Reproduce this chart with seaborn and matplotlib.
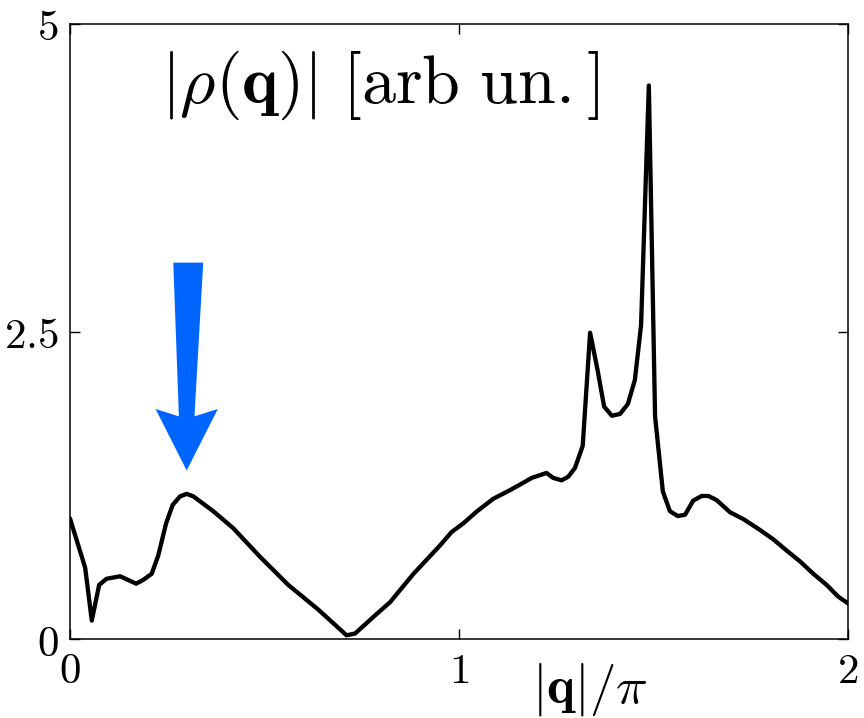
"""
Structure factor magnitude |rho(q)| along |q|/pi, with arrow marking the low-q hump.
"""
import numpy as np
import pandas as pd
import matplotlib
matplotlib.use("Agg")
import matplotlib.pyplot as plt
import seaborn as sns

# curve
q_over_pi = [0.000, 0.039, 0.056, 0.075, 0.094, 0.129, 0.170, 0.188, 0.210, 0.227,
             0.247, 0.264, 0.283, 0.300, 0.317, 0.368, 0.420, 0.488, 0.561, 0.638,
             0.711, 0.733, 0.780, 0.823, 0.883, 0.951, 0.981, 1.011, 1.045, 1.088,
             1.131, 1.165, 1.187, 1.225, 1.242, 1.264, 1.281, 1.298, 1.318, 1.337,
             1.356, 1.373, 1.393, 1.414, 1.434, 1.452, 1.468, 1.488, 1.504, 1.524,
             1.542, 1.562, 1.581, 1.602, 1.624, 1.641, 1.662, 1.697, 1.731, 1.774,
             1.808, 1.842, 1.877, 1.911, 1.945, 1.975, 2.000]
rho_abs = [0.98, 0.58, 0.15, 0.44, 0.49, 0.51, 0.45, 0.48, 0.53, 0.68,
           0.94, 1.09, 1.16, 1.18, 1.16, 1.04, 0.90, 0.67, 0.44, 0.24,
           0.03, 0.045, 0.18, 0.30, 0.53, 0.76, 0.87, 0.94, 1.035, 1.14,
           1.21, 1.27, 1.31, 1.35, 1.31, 1.29, 1.32, 1.39, 1.57, 2.49,
           2.19, 1.89, 1.815, 1.83, 1.91, 2.105, 2.55, 4.50, 1.81, 1.20,
           1.04, 1.00, 1.01, 1.125, 1.163, 1.163, 1.13, 1.03, 0.975, 0.886,
           0.81, 0.72, 0.63, 0.53, 0.44, 0.344, 0.29]

x_ticks = [0, 1, 2]
x_tick_labels = ["$0$", "$1$", "$2$"]
y_ticks = [0, 2.5, 5]
y_tick_labels = ["$0$", "$2.5$", "$5$"]

# arrow annotation (data units)
arrow_tip = (0.300, 1.37)
arrow_top_y = 3.06
arrow_top_x = 0.304
arrow_tail_half = 0.0385
arrow_neck_half = 0.020
arrow_head_half = 0.080
arrow_neck_y = 1.81
arrow_barb_y = 1.87

sns.set_theme(style="ticks")
plt.rcParams.update({
    "mathtext.fontset": "cm",
    "font.family": ["DejaVu Sans"],
    "axes.linewidth": 1.1,
    "text.color": "black",
    "axes.labelcolor": "black",
    "xtick.color": "black",
    "ytick.color": "black",
    "axes.edgecolor": "black",
})

df = pd.DataFrame({"q": q_over_pi, "rho": rho_abs})

fig = plt.figure(figsize=(8.64, 7.18), dpi=100)
ax = fig.add_axes([0.081, 0.110, 0.9005, 0.8566])

sns.lineplot(data=df, x="q", y="rho", ax=ax, color="black", linewidth=3.1,
             estimator=None, sort=False)

# tapered blue arrow
tx, ty = arrow_tip
arrow_poly = np.array([
    [arrow_top_x - arrow_tail_half, arrow_top_y],
    [arrow_top_x + arrow_tail_half, arrow_top_y],
    [tx + arrow_neck_half, arrow_neck_y],
    [tx + arrow_head_half, arrow_barb_y],
    [tx, ty],
    [tx - arrow_head_half, arrow_barb_y],
    [tx - arrow_neck_half, arrow_neck_y],
])
ax.fill(arrow_poly[:, 0], arrow_poly[:, 1], color="#0064ff", lw=0, zorder=3)

ax.set_xlim(0, 2)
ax.set_ylim(0, 5)
ax.set_xticks(x_ticks)
ax.set_xticklabels(x_tick_labels)
ax.set_yticks(y_ticks)
ax.set_yticklabels(y_tick_labels)
ax.tick_params(direction="in", length=7, width=1.0, top=True, right=True,
               labelsize=31, pad=8, colors="black")
for s in ax.spines.values():
    s.set_visible(True)
    s.set_color("black")

ax.set_ylabel("")
ax.set_xlabel(r"$|\mathbf{q}|/\pi$", fontsize=38, labelpad=-8)
ax.xaxis.set_label_coords(0.668, -0.035, transform=ax.transAxes)
ax.xaxis.label.set_va("top")

ax.text(0.398, 0.900, r"$|\rho(\mathbf{q})|\ [\mathrm{arb\ un.}]$",
        transform=ax.transAxes, fontsize=49, ha="center", va="center")

fig.savefig("out.png", dpi=100)
plt.close(fig)
